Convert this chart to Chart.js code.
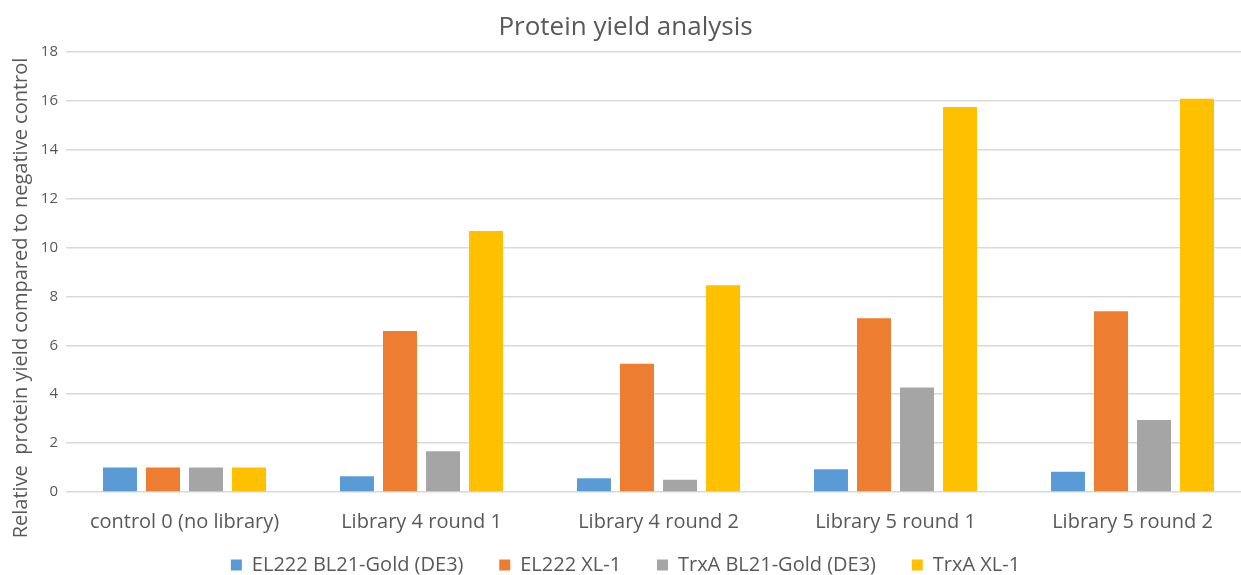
<!DOCTYPE html>
<html>
<head>
<meta charset="utf-8">
<script src="https://cdn.jsdelivr.net/npm/chart.js@4/dist/chart.umd.min.js"></script>
<style>
  html, body { margin: 0; padding: 0; background: #ffffff; overflow: hidden; }
  #wrap { width: 1252px; height: 575px; }
</style>
</head>
<body>
<div id="wrap"><canvas id="c" width="1252" height="575"></canvas></div>
<script>
// Categories along the x axis
const categories = [
  'control 0 (no library)',
  'Library 4 round 1',
  'Library 4 round 2',
  'Library 5 round 1',
  'Library 5 round 2'
];

// Relative protein yield for each strain / construct
const el222Bl21Gold = [1.0, 0.64, 0.56, 0.93, 0.83];
const el222Xl1      = [1.0, 6.59, 5.25, 7.11, 7.39];
const trxABl21Gold  = [1.0, 1.67, 0.50, 4.27, 2.95];
const trxAXl1       = [1.0, 10.68, 8.46, 15.75, 16.09];

const seriesNames = ['EL222 BL21-Gold (DE3)', 'EL222 XL-1', 'TrxA BL21-Gold (DE3)', 'TrxA XL-1'];
const seriesColors = ['#5B9BD5', '#ED7D31', '#A5A5A5', '#FFC000'];

// y axis range and step
const yMin = 0;
const yMax = 18;
const yStep = 2;

const FONT = "'Open Sans', 'DejaVu Sans', sans-serif";
const TEXT = '#595959';
const GRID = '#D9D9D9';

const seriesValues = [el222Bl21Gold, el222Xl1, trxABl21Gold, trxAXl1];
const datasets = seriesValues.map((vals, i) => ({
  label: seriesNames[i],
  data: vals,
  backgroundColor: seriesColors[i],
  borderWidth: 0,
  categoryPercentage: 0.726,
  barPercentage: 0.79
}));

const PLOT_BOTTOM = 492;

new Chart(document.getElementById('c'), {
  type: 'bar',
  data: { labels: categories, datasets },
  options: {
    responsive: false,
    animation: false,
    layout: { padding: { left: 0, right: 1, top: 0, bottom: -10 } },
    plugins: {
      title: {
        display: true,
        text: 'Protein yield analysis',
        color: TEXT,
        font: { family: FONT, size: 26, weight: 'normal' },
        padding: { top: 12, bottom: 8.8 }
      },
      legend: {
        position: 'bottom',
        labels: {
          color: TEXT,
          font: { family: FONT, size: 20 },
          boxWidth: 11,
          boxHeight: 11,
          padding: 15,
          // wider gaps between legend entries
          generateLabels: (chart) => {
            const items = Chart.defaults.plugins.legend.labels.generateLabels(chart);
            items.forEach((it, i) => {
              if (i < items.length - 1) it.text = it.text + '    ';
            });
            return items;
          }
        }
      },
      tooltip: { enabled: false }
    },
    scales: {
      x: {
        grid: { display: false, drawTicks: false },
        border: { display: false },
        ticks: {
          color: TEXT,
          font: { family: FONT, size: 20 },
          padding: 18,
          maxRotation: 0
        },
        afterFit: (s) => {
          s.height = 585 - s.chart.legend.height - PLOT_BOTTOM;
        }
      },
      y: {
        min: yMin,
        max: yMax,
        ticks: {
          stepSize: yStep,
          color: TEXT,
          font: { family: FONT, size: 15 },
          padding: 8
        },
        grid: { color: GRID, lineWidth: 1.5, drawTicks: false },
        border: { display: false },
        title: {
          display: true,
          text: 'Relative  protein yield compared to negative control' + ' '.repeat(10),
          color: TEXT,
          font: { family: FONT, size: 20 },
          padding: { top: 9, bottom: 0 }
        },
        afterFit: (s) => { s.width = 66; }
      }
    }
  }
});
</script>
</body>
</html>
